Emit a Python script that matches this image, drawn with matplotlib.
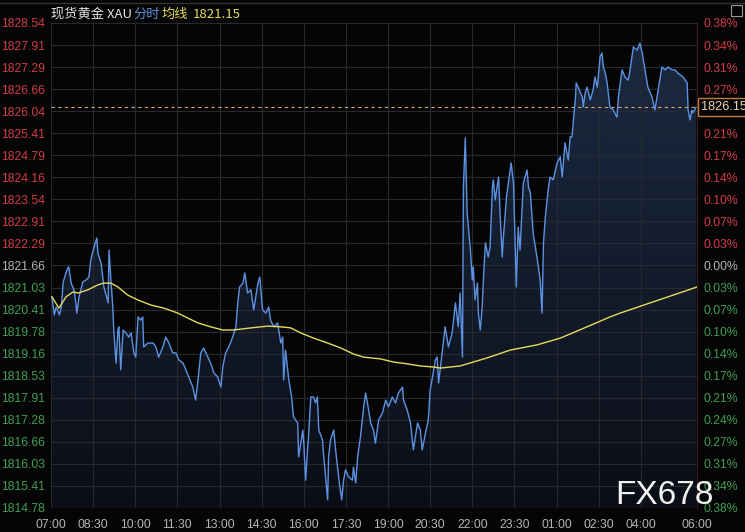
"""
XAU intraday (分时) chart, dark terminal style
"""
import matplotlib
matplotlib.use('Agg')
import matplotlib.pyplot as plt
from matplotlib.lines import Line2D
from matplotlib.patches import Polygon, Rectangle
import numpy as np

# minutes after 07:00 and price of the 分时 line
minutes = [2, 7, 11, 14, 18, 22, 26, 32, 36, 38, 43, 49, 53, 55, 60, 68, 75, 81, 85, 92,
           98, 100, 107, 113, 122, 124, 128, 132, 134, 139, 143, 145, 149, 154, 160, 166, 171, 177, 181, 186,
           192, 196, 198, 207, 218, 224, 230, 239, 245, 252, 260, 267, 273, 282, 288, 294, 303, 309, 314, 320,
           326, 335, 341, 348, 356, 363, 367, 373, 380, 388, 395, 399, 403, 410, 414, 420, 427, 433, 442, 446,
           452, 459, 465, 469, 476, 484, 491, 495, 497, 501, 508, 514, 518, 527, 529, 538, 540, 544, 548, 550,
           555, 561, 565, 569, 572, 580, 582, 591, 593, 597, 604, 608, 612, 616, 621, 625, 629, 636, 644, 646,
           651, 655, 661, 668, 672, 676, 683, 689, 693, 700, 708, 715, 721, 729, 736, 742, 751, 753, 761, 768,
           774, 783, 789, 793, 800, 806, 810, 815, 821, 825, 828, 842, 849, 857, 864, 870, 874, 879, 881, 885,
           889, 896, 900, 902, 906, 911, 913, 917, 921, 924, 928, 934, 938, 943, 945, 949, 956, 960, 964, 966,
           973, 977, 983, 988, 994, 998, 1002, 1009, 1017, 1020, 1024, 1030, 1039, 1045, 1049, 1052, 1056, 1062, 1066, 1073,
           1081, 1088, 1092, 1098, 1105, 1109, 1113, 1116, 1120, 1122, 1126, 1135, 1137, 1141, 1145, 1152, 1158, 1162, 1167, 1173,
           1177, 1180, 1184, 1188, 1194, 1201, 1209, 1212, 1220, 1226, 1233, 1237, 1244, 1252, 1258, 1263, 1269, 1275, 1284, 1290,
           1297, 1305, 1312, 1318, 1327, 1333, 1339, 1350, 1359, 1361, 1365, 1369, 1371, 1378]
prices = [1820.77, 1820.26, 1820.48, 1820.40, 1820.26, 1820.48, 1821.19, 1821.45, 1821.59, 1821.62,
          1821.16, 1820.97, 1820.60, 1820.31, 1820.77, 1821.19, 1821.25, 1821.33, 1821.82, 1822.19,
          1822.44, 1822.02, 1821.73, 1821.05, 1820.60, 1822.10, 1821.25, 1820.48, 1819.83, 1818.89,
          1819.83, 1819.92, 1818.70, 1819.83, 1819.75, 1819.63, 1819.75, 1819.18, 1819.06, 1820.20,
          1820.11, 1820.20, 1819.35, 1819.46, 1819.46, 1819.35, 1819.06, 1819.35, 1819.63, 1819.46,
          1819.18, 1819.18, 1818.98, 1818.89, 1818.70, 1818.50, 1818.21, 1817.84, 1818.41, 1819.18,
          1819.32, 1819.06, 1818.89, 1818.61, 1818.50, 1818.21, 1818.78, 1819.18, 1819.35, 1819.63,
          1819.92, 1820.60, 1821.05, 1821.16, 1821.45, 1820.88, 1820.97, 1820.40, 1821.16, 1821.33,
          1820.40, 1820.31, 1820.48, 1820.11, 1819.92, 1820.03, 1819.46, 1819.63, 1818.41, 1819.26,
          1818.41, 1817.93, 1817.36, 1817.19, 1816.23, 1816.99, 1816.62, 1815.57, 1816.43, 1816.79,
          1817.93, 1817.93, 1817.76, 1817.93, 1816.99, 1816.71, 1816.34, 1815.01, 1816.23, 1816.71,
          1816.99, 1816.43, 1815.94, 1815.49, 1815.01, 1815.57, 1815.86, 1815.66, 1815.57, 1815.94,
          1815.49, 1816.23, 1816.79, 1817.65, 1818.04, 1817.76, 1817.19, 1816.99, 1816.62, 1817.28,
          1817.48, 1817.84, 1817.65, 1817.93, 1817.76, 1818.04, 1818.21, 1817.84, 1817.56, 1817.19,
          1816.43, 1817.19, 1816.99, 1816.43, 1816.91, 1817.28, 1818.13, 1818.50, 1818.98, 1819.06,
          1818.33, 1819.92, 1819.35, 1819.75, 1820.60, 1819.92, 1820.88, 1819.06, 1823.89, 1825.28,
          1823.15, 1822.10, 1821.25, 1821.62, 1820.68, 1821.16, 1820.31, 1819.83, 1820.48, 1821.33,
          1822.30, 1821.90, 1822.19, 1823.89, 1824.09, 1823.52, 1824.17, 1822.95, 1821.90, 1822.38,
          1823.60, 1824.00, 1824.57, 1824.00, 1821.05, 1822.75, 1822.10, 1824.00, 1824.37, 1823.89,
          1823.72, 1822.58, 1821.82, 1821.25, 1820.31, 1822.30, 1823.04, 1823.80, 1824.17, 1824.09,
          1824.57, 1824.74, 1824.17, 1825.14, 1824.65, 1825.31, 1825.31, 1825.79, 1826.36, 1826.84,
          1826.72, 1826.44, 1826.16, 1826.55, 1826.72, 1826.36, 1826.64, 1827.01, 1826.72, 1827.58,
          1827.69, 1827.29, 1827.12, 1826.84, 1826.16, 1826.07, 1825.87, 1826.44, 1827.21, 1827.01,
          1826.92, 1827.21, 1827.86, 1827.77, 1827.97, 1827.69, 1827.21, 1826.72, 1826.44, 1826.07,
          1826.64, 1827.29, 1827.21, 1827.29, 1827.21, 1827.21, 1827.12, 1827.01, 1826.84, 1826.07,
          1825.79, 1826.07, 1825.99, 1826.15]

# 均线 (average price line)
avg_minutes = [2, 17, 32, 47, 58, 79, 100, 113, 128, 143, 164, 186, 213, 241, 271, 292, 314, 341,
               367, 390, 427, 463, 491, 512, 533, 561, 591, 619, 646, 668, 704, 732, 761, 789, 817,
               832, 874, 932, 981, 1039, 1088, 1145, 1194, 1216, 1280, 1380]
avg_prices = [1820.77, 1820.45, 1820.77, 1820.91, 1820.88, 1820.97, 1821.11, 1821.16, 1821.16, 1821.05,
              1820.82, 1820.68, 1820.54, 1820.45, 1820.31, 1820.17, 1820.03, 1819.92, 1819.83, 1819.83,
              1819.89, 1819.94, 1819.92, 1819.89, 1819.75, 1819.60, 1819.46, 1819.32, 1819.15, 1819.06,
              1819.01, 1818.92, 1818.87, 1818.81, 1818.78, 1818.75, 1818.81, 1819.04, 1819.26, 1819.41,
              1819.60, 1819.92, 1820.20, 1820.31, 1820.60, 1821.05]

price_ticks = [1828.54, 1827.91, 1827.29, 1826.66, 1826.04, 1825.41, 1824.79, 1824.16, 1823.54,
               1822.91, 1822.29, 1821.66, 1821.03, 1820.41, 1819.78, 1819.16, 1818.53, 1817.91,
               1817.28, 1816.66, 1816.03, 1815.41, 1814.78]
pct_labels = ['0.38%', '0.34%', '0.31%', '0.27%', '0.24%', '0.21%', '0.17%', '0.14%', '0.10%',
              '0.07%', '0.03%', '0.00%', '0.03%', '0.07%', '0.10%', '0.14%', '0.17%', '0.21%',
              '0.24%', '0.27%', '0.31%', '0.34%', '0.38%']
time_ticks = [0, 90, 180, 270, 360, 450, 540, 630, 720, 810, 900, 990, 1080, 1170, 1260, 1380]
time_labels = ['07:00', '08:30', '10:00', '11:30', '13:00', '14:30', '16:00', '17:30', '19:00',
               '20:30', '22:00', '23:30', '01:00', '02:30', '04:00', '06:00']
prev_close = 1821.66
last_price = 1826.15
avg_value = '1821.15'

BG = '#050505'
RED = '#d23a44'
GREEN = '#3f9e52'
GREY = '#b4b4b4'
BLUE = '#5c92e2'
YELLOW = '#e4dc5c'

lab_font = 'Liberation Sans'
lab_size = 8.8
cjk = ['Noto Sans CJK SC', 'DejaVu Sans']

fig = plt.figure(figsize=(7.45, 5.32), dpi=100, facecolor=BG)
W, H = 745, 532
ax = fig.add_axes([51 / W, (H - 508) / H, (697 - 51) / W, (508 - 23) / H], facecolor=BG)
ax.set_xlim(0, 1380)
ax.set_ylim(1814.78, 1828.54)

# grid (drawn over the fill, under the lines)
ax.set_xticks(time_ticks)
ax.set_yticks(price_ticks)
ax.grid(True, color='#262a30', lw=0.8, zorder=2)
ax.set_axisbelow(False)
for s in ax.spines.values():
    s.set_visible(False)
ax.spines['right'].set_visible(True)
ax.spines['right'].set_color('#4a1a1e')
ax.spines['right'].set_linewidth(0.8)

# gradient fill under the price line
verts = [(minutes[0], 1814.78)] + list(zip(minutes, prices)) + [(minutes[-1], 1814.78)]
poly = Polygon(verts, closed=True, facecolor='none', edgecolor='none')
ax.add_patch(poly)
top = np.array([0x1c, 0x2b, 0x44]) / 255.0
bot = np.array([0x0b, 0x0e, 0x16]) / 255.0
t = np.linspace(0, 1, 256)[:, None]
grad = (top * (1 - t) + bot * t)[:, None, :]
im = ax.imshow(grad, extent=[0, 1380, 1814.78, 1828.54], aspect='auto', origin='upper', zorder=1)
im.set_clip_path(poly)

ax.plot(minutes, prices, color=BLUE, lw=1.0, zorder=3)
ax.plot(avg_minutes, avg_prices, color=YELLOW, lw=1.0, zorder=4)
ax.axhline(last_price, color='#d9a877', lw=0.8, ls=(0, (3, 3)), zorder=2.6)

# left price labels
ax.tick_params(axis='both', length=0)
ax.set_xticklabels(time_labels, fontsize=lab_size, color=GREY, family=lab_font)
ax.tick_params(axis='x', pad=8)
ax.set_yticklabels([f'{p:.2f}' for p in price_ticks], fontsize=lab_size, family=lab_font)
ax.tick_params(axis='y', pad=4)
for lab, p in zip(ax.get_yticklabels(), price_ticks):
    lab.set_color(RED if p > prev_close else (GREEN if p < prev_close else GREY))

# right percentage labels
ax2 = ax.twinx()
ax2.set_ylim(ax.get_ylim())
ax2.set_yticks(price_ticks)
ax2.set_yticklabels(pct_labels, fontsize=lab_size, family=lab_font)
ax2.tick_params(axis='y', length=0, pad=5)
for s in ax2.spines.values():
    s.set_visible(False)
for lab, p in zip(ax2.get_yticklabels(), price_ticks):
    lab.set_color(RED if p > prev_close else (GREEN if p < prev_close else GREY))

# last price tag
ax2.annotate(f'{last_price:.2f}', xy=(1, last_price), xycoords=('axes fraction', 'data'),
             xytext=(3, 0), textcoords='offset points', ha='left', va='center',
             fontsize=lab_size + 0.4, family=lab_font, color='#ecd3b0', zorder=10,
             bbox=dict(boxstyle='square,pad=0.25', fc=BG, ec='#c07a3a', lw=1.0))

# header
y_head = 1 - 14 / H
fig.text(51 / W, y_head, '现货黄金 XAU', color='#e2e2e2', fontsize=9.5, family=cjk, va='center')
fig.text(133 / W, y_head, '分时', color='#5c8fd6', fontsize=9.5, family=cjk, va='center')
fig.text(162 / W, y_head, '均线', color=YELLOW, fontsize=9.5, family=cjk, va='center')
fig.text(193 / W, y_head, avg_value, color=YELLOW, fontsize=9.5, family=cjk, va='center')
fig.add_artist(Line2D([0, 1], [1 - 2.5 / H, 1 - 2.5 / H], color='#333333', lw=1))
# small panel icon in the top-right corner
fig.add_artist(Rectangle((731 / W, 1 - 16 / H), 11 / W, 11 / H, fill=False,
                         ec='#9a9a9a', lw=0.8))

# watermark
fig.text(664 / W, 1 - 495 / H, 'FX678', color='#f2f2f2', fontsize=24,
         family='Liberation Sans', ha='center', va='center', zorder=20)

fig.savefig('out.png', dpi=100, facecolor=BG)
